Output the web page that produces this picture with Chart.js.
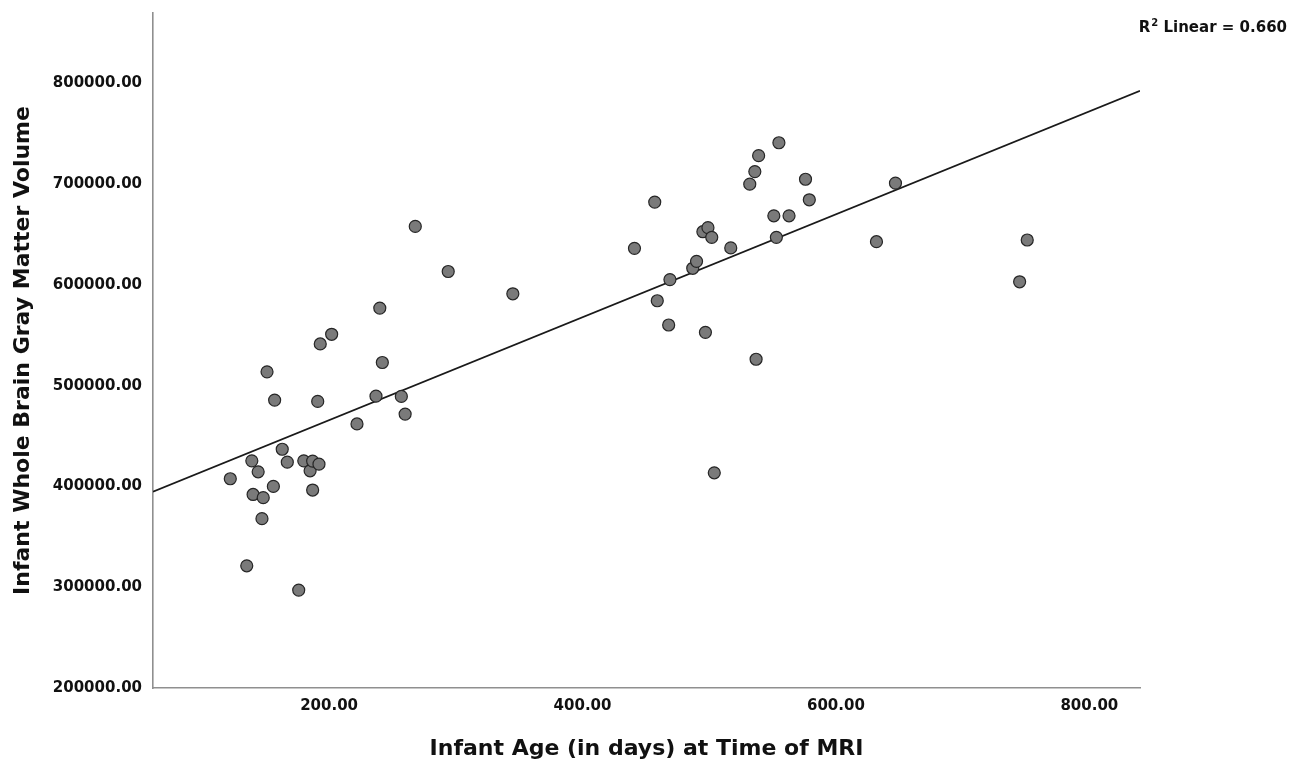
<!DOCTYPE html>
<html>
<head>
<meta charset="utf-8">
<script src="https://cdn.jsdelivr.net/npm/chart.js@4/dist/chart.umd.min.js"></script>
<style>
  html, body { margin: 0; padding: 0; background: #fff; }
  #wrap { width: 1298px; height: 762px; }
</style>
</head>
<body>
<div id="wrap"><canvas id="gmChart" width="1298" height="762"></canvas></div>
<script>
// infant age (days) and whole brain gray matter volume
const ageDays = [
    122, 135, 139, 140, 144, 147, 148, 151, 156, 157,
    163, 167, 176, 180, 185, 187, 187, 192, 191, 193,
    202, 222, 237, 240, 242, 257, 260, 268, 294, 345,
    441, 457, 459, 468, 469, 487, 490, 495, 499, 497,
    502, 504, 517, 532, 536, 537, 539, 551, 553, 555,
    563, 576, 579, 632, 647, 745, 751
];
const gmVolume = [
    407700, 321300, 425500, 392100, 414600, 368100, 388900, 513800, 400100, 485800,
    437000, 424200, 297200, 425500, 415600, 425200, 396500, 422200, 484500, 541500,
    551100, 462100, 489700, 577100, 523100, 489400, 471900, 658200, 613400, 591300,
    636400, 682300, 584400, 560300, 605400, 616600, 623500, 652900, 656900, 553000,
    647300, 413600, 636800, 700100, 712600, 526300, 728400, 668700, 647300, 741200,
    668700, 705000, 684600, 643000, 701100, 603200, 644700
];

// linear fit line, ends read at the plot edges
const fitAge = [61, 840];
const fitVolume = [394800, 792800];
const rSquared = '0.660';

const xTicks = [200, 400, 600, 800];
const yTicks = [200000, 300000, 400000, 500000, 600000, 700000, 800000];

const boldFont = 'DejaVu Sans';

const points = ageDays.map((a, i) => ({ x: a, y: gmVolume[i] }));
const fitPoints = fitAge.map((a, i) => ({ x: a, y: fitVolume[i] }));

// R² label in the top right corner
const rSquaredLabel = {
    id: 'rSquaredLabel',
    afterDraw(chart) {
        const ctx = chart.ctx;
        ctx.save();
        ctx.fillStyle = '#111';
        ctx.textBaseline = 'middle';
        ctx.textAlign = 'right';
        ctx.font = 'bold 15px "' + boldFont + '"';
        const rest = ' Linear = ' + rSquared;
        const right = 1287;
        ctx.fillText(rest, right, 28);
        const restW = ctx.measureText(rest).width;
        ctx.font = 'bold 10px "' + boldFont + '"';
        const supW = ctx.measureText('2').width;
        ctx.fillText('2', right - restW, 23);
        ctx.font = 'bold 15px "' + boldFont + '"';
        ctx.fillText('R', right - restW - supW - 1, 28);
        ctx.restore();
    }
};

const ctx = document.getElementById('gmChart').getContext('2d');
const chart = new Chart(ctx, {
    type: 'scatter',
    data: {
        datasets: [{
            label: 'Gray matter volume',
            data: points,
            backgroundColor: '#7a7a7a',
            borderColor: '#262626',
            borderWidth: 1.2,
            pointRadius: 6,
            order: 1
        }, {
            type: 'line',
            label: 'Linear fit',
            data: fitPoints,
            borderColor: '#1a1a1a',
            borderWidth: 1.7,
            pointRadius: 0,
            fill: false,
            order: 2
        }]
    },
    options: {
        responsive: false,
        animation: false,
        layout: {
            padding: { left: 0, top: 13, right: 158, bottom: 0 }
        },
        plugins: {
            legend: { display: false },
            tooltip: { enabled: false }
        },
        scales: {
            x: {
                type: 'linear',
                min: 61,
                max: 840,
                afterBuildTicks: function(scale) {
                    scale.ticks = xTicks.map(v => ({ value: v }));
                },
                afterFit: function(scale) {
                    scale.height = 74;
                    scale.paddingLeft = 0;
                    scale.paddingRight = 0;
                },
                grid: { display: false, drawTicks: false },
                border: { display: true, color: '#8f8f8f', width: 1.6 },
                ticks: {
                    padding: 9,
                    color: '#111',
                    font: { family: boldFont, size: 15, weight: 'bold' },
                    callback: v => Number(v).toFixed(2)
                },
                title: {
                    display: true,
                    text: 'Infant Age (in days) at Time of MRI',
                    color: '#111',
                    font: { family: boldFont, size: 22, weight: 'bold' },
                    padding: { top: 0, bottom: 0 }
                }
            },
            y: {
                type: 'linear',
                min: 200000,
                max: 870000,
                afterBuildTicks: function(scale) {
                    scale.ticks = yTicks.map(v => ({ value: v }));
                },
                afterFit: function(scale) {
                    scale.width = 153;
                    // no extra room for the top label, it sits well below the edge
                    scale.paddingTop = 0;
                    scale.paddingBottom = 0;
                },
                grid: { display: false, drawTicks: false },
                border: { display: true, color: '#8f8f8f', width: 1.6 },
                ticks: {
                    padding: 11,
                    color: '#111',
                    font: { family: boldFont, size: 15, weight: 'bold' },
                    callback: v => Number(v).toFixed(2)
                },
                title: {
                    display: true,
                    text: 'Infant Whole Brain Gray Matter Volume',
                    color: '#111',
                    font: { family: boldFont, size: 22, weight: 'bold' },
                    padding: { top: 10, bottom: 0 }
                }
            }
        }
    },
    plugins: [rSquaredLabel]
});
</script>
</body>
</html>
